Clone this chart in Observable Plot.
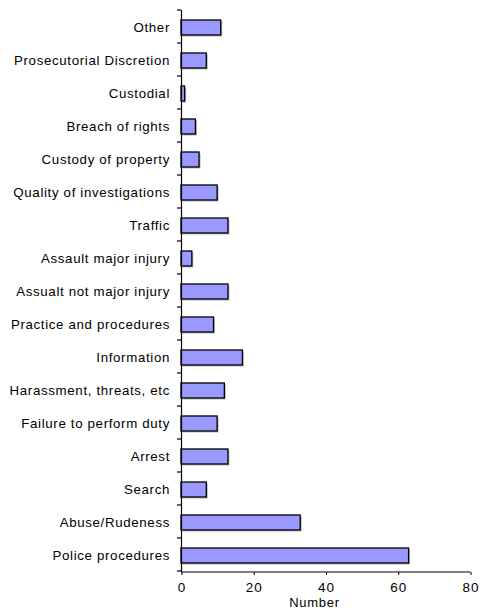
<!DOCTYPE html>
<html>
<head>
<meta charset="utf-8">
<script src="https://cdn.jsdelivr.net/npm/d3@7"></script>
<script src="https://cdn.jsdelivr.net/npm/@observablehq/plot@0.6"></script>
<style>
  html, body { margin: 0; padding: 0; background: #fff; }
  #chart svg { display: block; font-family: Arial, "Liberation Sans", sans-serif; }
  #chart svg text { fill: #000; }
  #chart svg .ylab text { font-size: 13.3px; letter-spacing: 0.65px; }
  #chart svg .xlab text { font-size: 13.5px; letter-spacing: 1px; }
  #chart svg .xtitle text { font-size: 13px; letter-spacing: 0.7px; }
</style>
</head>
<body>
<div id="chart"></div>
<script>
// Categories listed top to bottom as in the reference
const categories = [
  "Other",
  "Prosecutorial Discretion",
  "Custodial",
  "Breach of rights",
  "Custody of property",
  "Quality of investigations",
  "Traffic",
  "Assault major injury",
  "Assualt not major injury",
  "Practice and procedures",
  "Information",
  "Harassment, threats, etc",
  "Failure to perform duty",
  "Arrest",
  "Search",
  "Abuse/Rudeness",
  "Police procedures"
];
const values = [11, 7, 1, 4, 5, 10, 13, 3, 13, 9, 17, 12, 10, 13, 7, 33, 63];
const xTicks = [0, 20, 40, 60, 80];
const xLabel = "Number";

const data = categories.map((c, i) => ({category: c, value: values[i]}));

const plot = Plot.plot({
  width: 483,
  height: 614,
  marginTop: 10,
  marginBottom: 42,
  marginLeft: 181,
  marginRight: 13,
  style: {background: "#fff", color: "#000"},
  x: {domain: [0, 80], ticks: xTicks, label: null},
  y: {domain: categories, paddingInner: 0.55, paddingOuter: 0.275, label: null},
  marks: [
    Plot.barX(data, {y: "category", x: "value", fill: "#b8b8b8", dx: 1.5, dy: 1.5}),
    Plot.barX(data, {y: "category", x: "value", fill: "#9999FF", stroke: "#000", strokeWidth: 1.3}),
    Plot.axisY({tickSize: 0, tickPadding: 11.5, label: null, className: "ylab"}),
    Plot.axisX({ticks: xTicks, tickSize: 3, tickPadding: 7, label: null, className: "xlab", dx: 0.5}),
    Plot.ruleX([0], {stroke: "#000", strokeWidth: 1.2}),
    Plot.text([xLabel], {frameAnchor: "bottom", dy: 34, dx: -11.5, className: "xtitle"})
  ]
});

// x-axis baseline and band-boundary ticks on the y axis, positioned from Plot's own scales
const svg = d3.select(plot);
const xs = plot.scale("x");
const ys = plot.scale("y");
const x0 = xs.apply ? xs.apply(0) : xs.range[0];
const x1 = xs.range[1];
const yTop = ys.range[0], yBot = ys.range[1];
const step = ys.step || (yBot - yTop) / categories.length;
const g = svg.append("g").attr("stroke", "#000").attr("stroke-width", 1.2);
g.append("line").attr("x1", x0).attr("x2", x1 + 0.5).attr("y1", yBot).attr("y2", yBot);
for (let k = 0; k <= categories.length; ++k) {
  const yy = yTop + k * step;
  g.append("line").attr("x1", x0 - 4).attr("x2", x0).attr("y1", yy).attr("y2", yy);
}

document.getElementById("chart").appendChild(plot);
</script>
</body>
</html>
